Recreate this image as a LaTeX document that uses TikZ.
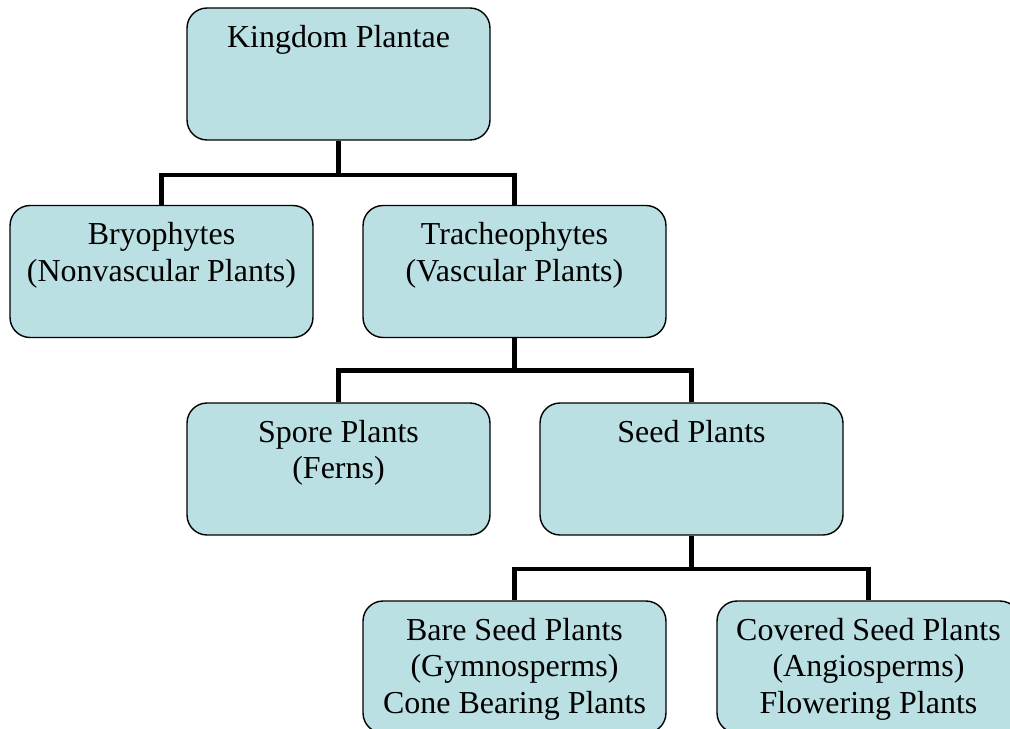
\documentclass[tikz,border=0pt]{standalone}
\usepackage{fontspec}
\setmainfont{Liberation Serif}
\usetikzlibrary{positioning}
\definecolor{boxblue}{HTML}{BBE0E3}
\newcommand{\boxlines}[1]{\parbox[c][2.64cm][t]{6cm}{\centering\fontsize{18.2pt}{21pt}\selectfont\rule{0pt}{0.78cm}#1}}

\begin{document}
\begin{tikzpicture}[x=0.02cm,y=-0.02cm,
    plantbox/.style={draw, fill=boxblue, rounded corners=0.4cm, line width=0.8pt, inner sep=0pt, minimum width=6.06cm, minimum height=2.64cm},
    branch/.style={line width=2.8pt}]
                \clip (0,0) rectangle (1010,729);

                \node[plantbox] (kingdom) at (338.5,74) {\boxlines{Kingdom Plantae}}; %kingdom
                \node[plantbox] (bryo) at (161.5,271.5) {\boxlines{Bryophytes\\(Nonvascular Plants)}}; %bryophytes
                \node[plantbox] (trach) at (514.5,271.5) {\boxlines{Tracheophytes\\(Vascular Plants)}}; %tracheophytes
                \node[plantbox] (spore) at (338.5,469) {\boxlines{Spore Plants\\(Ferns)}}; %spore
                \node[plantbox] (seed) at (691.5,469) {\boxlines{Seed Plants}}; %seed
                \node[plantbox] (bare) at (514.5,667) {\boxlines{Bare Seed Plants\\(Gymnosperms)\\Cone Bearing Plants}}; %gymnosperms
                \node[plantbox] (covered) at (868.5,667) {\boxlines{Covered Seed Plants\\(Angiosperms)\\Flowering Plants}}; %angiosperms

                \coordinate (j1) at (338.5,175);
                \coordinate (j2) at (514.5,370.5);
                \coordinate (j3) at (691.5,569);

                \draw[branch] (kingdom.south) -- (j1);
                \draw[branch] (bryo.north) |- (j1) -| (trach.north);
                \draw[branch] (trach.south) -- (j2);
                \draw[branch] (spore.north) |- (j2) -| (seed.north);
                \draw[branch] (seed.south) -- (j3);
                \draw[branch] (bare.north) |- (j3) -| (covered.north);
            \end{tikzpicture}
\end{document}
